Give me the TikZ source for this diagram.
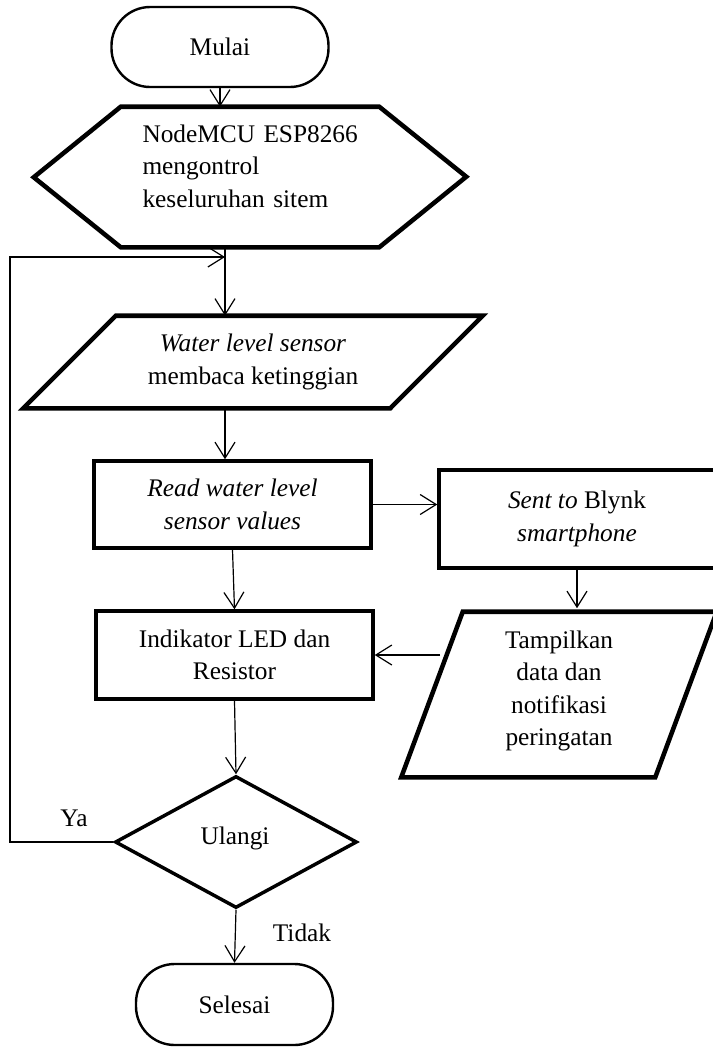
\documentclass[tikz,border=0pt]{standalone}
\usepackage{fontspec}
\setmainfont{Liberation Serif}
\usetikzlibrary{arrows.meta,shapes.geometric}
\newcommand{\pxu}{0.75pt}

\begin{document}
\begin{tikzpicture}[x=0.75pt, y=-0.75pt,
  font=\fontsize{19}{24.3}\selectfont,
  box/.style={draw, line width=2.6pt, inner sep=0pt, align=center},
  shapeline/.style={line width=3.4pt},
  term/.style={draw, line width=1.8pt, rounded corners=29pt, inner sep=0pt},
  arr/.style={line width=0.9pt, -{Straight Barb[length=12pt,width=15pt]}}]

\useasboundingbox (0,0) rectangle (713,1047);

% Define coordinates for reference points
\coordinate (join) at (225,257);      % loop comes back here
\coordinate (loopleft) at (10,842);   % left corner of the loop
\coordinate (tin) at (440,655);       % start of the arrow back to the LED box

% Start and end
\node[term, minimum width=217*\pxu, minimum height=80*\pxu] (mulai) at (220,47) {Mulai};
\node[term, minimum width=197*\pxu, minimum height=81*\pxu] (selesai) at (234.5,1004.5) {Selesai};

% Hexagon (NodeMCU)
\node[minimum width=258*\pxu, minimum height=140*\pxu, inner sep=0pt] (hex) at (250,177) {};
\draw[shapeline] (hex.north west) -- (hex.north east) -- ++(87,70) -- (hex.south east)
  -- (hex.south west) -- ++(-87,-70) -- cycle;
\node[text width=215*\pxu, align=left, inner sep=0pt] (hextext) at (250,166)
  {\makebox[161.25pt][s]{NodeMCU ESP8266}\\mengontrol\\keseluruhan sitem};

% Input: water level sensor
\node[align=center, minimum width=274*\pxu, minimum height=92*\pxu, inner sep=0pt] (sensor) at (253,362)
  {\textit{Water level sensor}\\membaca ketinggian};
\draw[shapeline] (sensor.north west) -- ++(367,0) -- (sensor.south east) -- ++(-367,0) -- cycle;

% Process boxes
\node[box, minimum width=277*\pxu, minimum height=87*\pxu] (read) at (232.5,504.5)
  {\textit{Read water level}\\\textit{sensor values}};
\node[box, minimum width=276*\pxu, minimum height=98*\pxu] (sent) at (577,519)
  {\textit{Sent to} Blynk\\\textit{smartphone}};
\node[box, minimum width=277*\pxu, minimum height=88*\pxu] (led) at (234.5,655)
  {Indikator LED dan\\Resistor};

% Output: Tampilkan
\node[align=center, minimum width=192*\pxu, minimum height=165*\pxu, inner sep=0pt] (tampil) at (559,691)
  {Tampilkan\\data dan\\notifikasi\\peringatan};
\draw[shapeline] ([yshift=-3.5*\pxu]tampil.north west) -- ++(254,0) -- ([yshift=-3.5*\pxu]tampil.south east)
  -- ++(-254,0) -- cycle;

% Decision
\node[draw, diamond, line width=2.6pt, minimum width=242*\pxu, minimum height=132*\pxu, inner sep=0pt] (ulangi) at (236,842) {};
\node (ulangitext) at (235,838) {Ulangi};

% Arrows
\draw[arr] (mulai.south) -- (mulai.south |- hex.north);
\draw[arr] (join |- hex.south) -- (join |- sensor.north);
\draw[arr] (join |- sensor.south) -- (join |- read.north);
\draw[arr] (read.south) -- (led.north);
\draw[arr] (led.south) -- (ulangi.north);
\draw[arr] (ulangi.south) -- (selesai.north);
\draw[arr] (read.east) -- (read.east -| sent.west);
\draw[arr] (sent.south) -- (sent.south |- tampil.north);
\draw[arr] (tin) -- (led.east);
\draw[arr] (ulangi.west) -- (loopleft) |- (join);

% Labels
\node (ya) at (74,818) {Ya};
\node (tidak) at (302,933) {Tidak};

\end{tikzpicture}
\end{document}
